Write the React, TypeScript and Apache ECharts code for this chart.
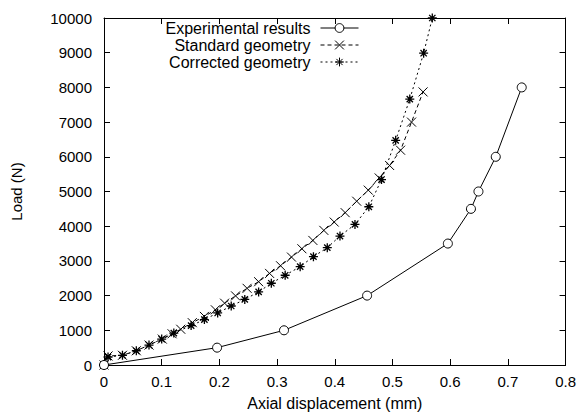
import React, { useEffect, useRef } from 'react';
import * as echarts from 'echarts';

const seriesNames = ['Experimental results', 'Standard geometry', 'Corrected geometry'];

const experimentalX = [0, 0.196, 0.312, 0.456, 0.596, 0.636, 0.649, 0.679, 0.724];
const experimentalY = [0, 500, 1000, 2000, 3500, 4500, 5000, 6000, 8000];

const standardX = [0, 0.007, 0.032, 0.056, 0.078, 0.101, 0.118, 0.133, 0.153, 0.174, 0.193, 0.209, 0.228, 0.248, 0.268, 0.287, 0.306, 0.325, 0.343, 0.362, 0.381, 0.399, 0.418, 0.438, 0.458, 0.477, 0.495, 0.514, 0.533, 0.553];
const standardY = [0, 260, 280, 410, 575, 747, 900, 1030, 1220, 1400, 1590, 1782, 1992, 2210, 2400, 2640, 2860, 3110, 3350, 3590, 3880, 4120, 4390, 4720, 5040, 5390, 5750, 6190, 7000, 7870];

const correctedX = [0, 0.007, 0.032, 0.056, 0.078, 0.1, 0.121, 0.151, 0.174, 0.197, 0.2205, 0.244, 0.268, 0.29, 0.314, 0.34, 0.363, 0.387, 0.409, 0.435, 0.459, 0.481, 0.5055, 0.53, 0.554, 0.569];
const correctedY = [0, 230, 280, 410, 575, 747, 920, 1135, 1310, 1500, 1700, 1890, 2107, 2356, 2586, 2835, 3123, 3381, 3716, 4052, 4560, 5345, 6474, 7663, 8985, 10000];

const xTicks = { min: 0, max: 0.8, interval: 0.1 };
const yTicks = { min: 0, max: 10000, interval: 1000 };

const FONT = 'Liberation Sans';
const FS = 15;
const FS_BIG = 16;

const crossSymbol = 'path://M0,0L10,10M10,0L0,10';
const starSymbol = 'path://M5,0L5,10M0,5L10,5M1.5,1.5L8.5,8.5M8.5,1.5L1.5,8.5';

const zip = (xs: number[], ys: number[]) => xs.map((x, i) => [x, ys[i]]);

export default function App() {
  const ref = useRef<HTMLDivElement>(null);
  useEffect(() => {
    if (!ref.current) return;
    const chart = echarts.init(ref.current, undefined, { renderer: 'svg' });
    const axisCommon = {
      axisLine: { show: true, onZero: false, lineStyle: { color: '#000', width: 1 } },
      axisTick: { show: true, inside: true, length: 6, lineStyle: { color: '#000', width: 1 } },
      splitLine: { show: false },
    };
    const legendBase = (name: string, top: number) => ({
      data: [{ name }],
      orient: 'horizontal',
      align: 'right',
      right: 220,
      top,
      itemWidth: 38,
      itemHeight: 11,
      padding: 0,
      selectedMode: false,
      lineStyle: { width: 1 },
      itemStyle: { borderWidth: 1 },
      textStyle: { fontFamily: FONT, fontSize: FS_BIG, color: '#000', padding: [0, 5, 0, 0] },
    });
    chart.setOption({
      animation: false,
      backgroundColor: '#fff',
      textStyle: { fontFamily: FONT },
      grid: { left: 104, right: 11, top: 18, bottom: 50, show: false },
      legend: [
        legendBase(seriesNames[0], 20),
        legendBase(seriesNames[1], 37),
        legendBase(seriesNames[2], 54),
      ],
      xAxis: [
        {
          type: 'value',
          ...xTicks,
          ...axisCommon,
          position: 'bottom',
          name: 'Axial displacement (mm)',
          nameLocation: 'middle',
          nameGap: 30,
          nameTextStyle: { fontFamily: FONT, fontSize: FS_BIG, color: '#000' },
          axisLabel: {
            fontFamily: FONT,
            fontSize: FS,
            color: '#000',
            margin: 9,
            formatter: (v: number) => String(+v.toFixed(1)),
          },
        },
        {
          type: 'value',
          ...xTicks,
          ...axisCommon,
          position: 'top',
          axisLabel: { show: false },
        },
      ],
      yAxis: [
        {
          type: 'value',
          ...yTicks,
          ...axisCommon,
          position: 'left',
          name: 'Load (N)',
          nameLocation: 'middle',
          nameGap: 80,
          nameTextStyle: { fontFamily: FONT, fontSize: FS, color: '#000' },
          axisLabel: {
            fontFamily: FONT,
            fontSize: FS,
            color: '#000',
            margin: 12,
            formatter: (v: number) => String(Math.round(v)),
          },
        },
        {
          type: 'value',
          ...yTicks,
          ...axisCommon,
          position: 'right',
          axisLabel: { show: false },
        },
      ],
      series: [
        {
          name: seriesNames[0],
          type: 'line',
          data: zip(experimentalX, experimentalY),
          symbol: 'circle',
          symbolSize: 9,
          showSymbol: true,
          lineStyle: { color: '#000', width: 1, type: 'solid' },
          itemStyle: { color: '#fff', borderColor: '#000', borderWidth: 1 },
          z: 3,
        },
        {
          name: seriesNames[1],
          type: 'line',
          data: zip(standardX, standardY),
          symbol: crossSymbol,
          symbolSize: 9,
          showSymbol: true,
          lineStyle: { color: '#000', width: 1, type: [4, 3] },
          itemStyle: { color: 'none', borderColor: '#000', borderWidth: 1 },
          z: 2,
        },
        {
          name: seriesNames[2],
          type: 'line',
          data: zip(correctedX, correctedY),
          symbol: starSymbol,
          symbolSize: 9,
          showSymbol: true,
          lineStyle: { color: '#000', width: 1, type: [2, 3] },
          itemStyle: { color: 'none', borderColor: '#000', borderWidth: 1.3 },
          z: 2,
        },
      ],
    });
    return () => chart.dispose();
  }, []);
  return (
    <div
      ref={ref}
      style={{ position: 'fixed', left: 0, top: 0, width: 579, height: 416, background: '#fff' }}
    />
  );
}
